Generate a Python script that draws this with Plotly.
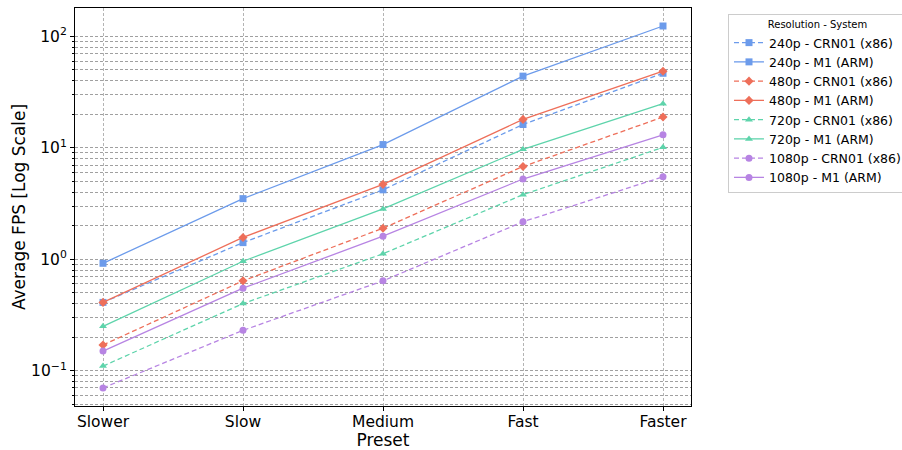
import plotly.graph_objects as go

presets = ["Slower", "Slow", "Medium", "Fast", "Faster"]

fps_240_crn = [0.41, 1.41, 4.2, 16.2, 46.7]
fps_240_m1 = [0.92, 3.5, 10.7, 44.0, 124.0]
fps_480_crn = [0.17, 0.64, 1.9, 6.8, 18.9]
fps_480_m1 = [0.41, 1.57, 4.7, 18.0, 48.7]
fps_720_crn = [0.11, 0.40, 1.12, 3.8, 10.1]
fps_720_m1 = [0.25, 0.96, 2.83, 9.7, 24.9]
fps_1080_crn = [0.07, 0.23, 0.64, 2.17, 5.5]
fps_1080_m1 = [0.15, 0.55, 1.61, 5.25, 13.1]

y_tick_vals = [0.1, 1, 10, 100]
y_tick_text = ["10<sup>\u22121</sup>", "10<sup>0</sup>", "10<sup>1</sup>", "10<sup>2</sup>"]

series = [
    ("240p - CRN01 (x86)", fps_240_crn, "#6C9BEB", "dash", "square"),
    ("240p - M1 (ARM)", fps_240_m1, "#6C9BEB", "solid", "square"),
    ("480p - CRN01 (x86)", fps_480_crn, "#EE6F5A", "dash", "diamond"),
    ("480p - M1 (ARM)", fps_480_m1, "#EE6F5A", "solid", "diamond"),
    ("720p - CRN01 (x86)", fps_720_crn, "#5ED4AB", "dash", "triangle-up"),
    ("720p - M1 (ARM)", fps_720_m1, "#5ED4AB", "solid", "triangle-up"),
    ("1080p - CRN01 (x86)", fps_1080_crn, "#B784E3", "dash", "circle"),
    ("1080p - M1 (ARM)", fps_1080_m1, "#B784E3", "solid", "circle"),
]

fig = go.Figure()
xi = list(range(len(presets)))
for name, vals, color, dash, sym in series:
    fig.add_trace(go.Scatter(
        x=xi, y=vals, name=name, mode="lines+markers",
        line=dict(color=color, width=1.3, dash="5px,3px" if dash == "dash" else "solid"),
        marker=dict(symbol=sym, size=7, color=color),
    ))

font = "DejaVu Sans"
grid_dash = "3px,2px"
fig.update_layout(
    width=902, height=450,
    margin=dict(l=75, r=211, t=8, b=44, autoexpand=False),
    paper_bgcolor="white", plot_bgcolor="white",
    font=dict(family=font, color="black"),
    showlegend=True,
    legend=dict(
        title=dict(text="Resolution - System", font=dict(size=10, family=font), side="top center"),
        font=dict(size=12.5, family=font),
        xref="container", yref="container",
        x=728 / 902, y=1 - 14 / 450, xanchor="left", yanchor="top",
        bordercolor="#cccccc", borderwidth=1,
        tracegroupgap=0, itemwidth=30,
    ),
)
fig.update_xaxes(
    tickmode="array", tickvals=xi, ticktext=presets,
    range=[-0.2, 4.2], automargin=False,
    title=dict(text="Preset", font=dict(size=17), standoff=0),
    tickfont=dict(size=15.5), ticklabelstandoff=-3,
    showline=True, mirror=True, linecolor="black", linewidth=1.2,
    ticks="outside", ticklen=4, tickcolor="black",
    showgrid=True, gridcolor="#b4b4b4", griddash=grid_dash, gridwidth=1,
    zeroline=False,
)
fig.update_yaxes(
    type="log", range=[-1.317, 2.255], automargin=False,
    tickmode="array", tickvals=y_tick_vals, ticktext=y_tick_text,
    title=dict(text="Average FPS [Log Scale]", font=dict(size=17), standoff=1),
    tickfont=dict(size=15.5),
    showline=True, mirror=True, linecolor="black", linewidth=1.2,
    ticks="outside", ticklen=4, tickcolor="black",
    showgrid=True, gridcolor="#a0a0a0", griddash=grid_dash, gridwidth=1,
    minor=dict(dtick="D1", showgrid=True, gridcolor="#a0a0a0", griddash=grid_dash, gridwidth=1,
               ticks="outside", ticklen=2, tickcolor="black"),
    zeroline=False,
)

fig.write_html("out.html")
